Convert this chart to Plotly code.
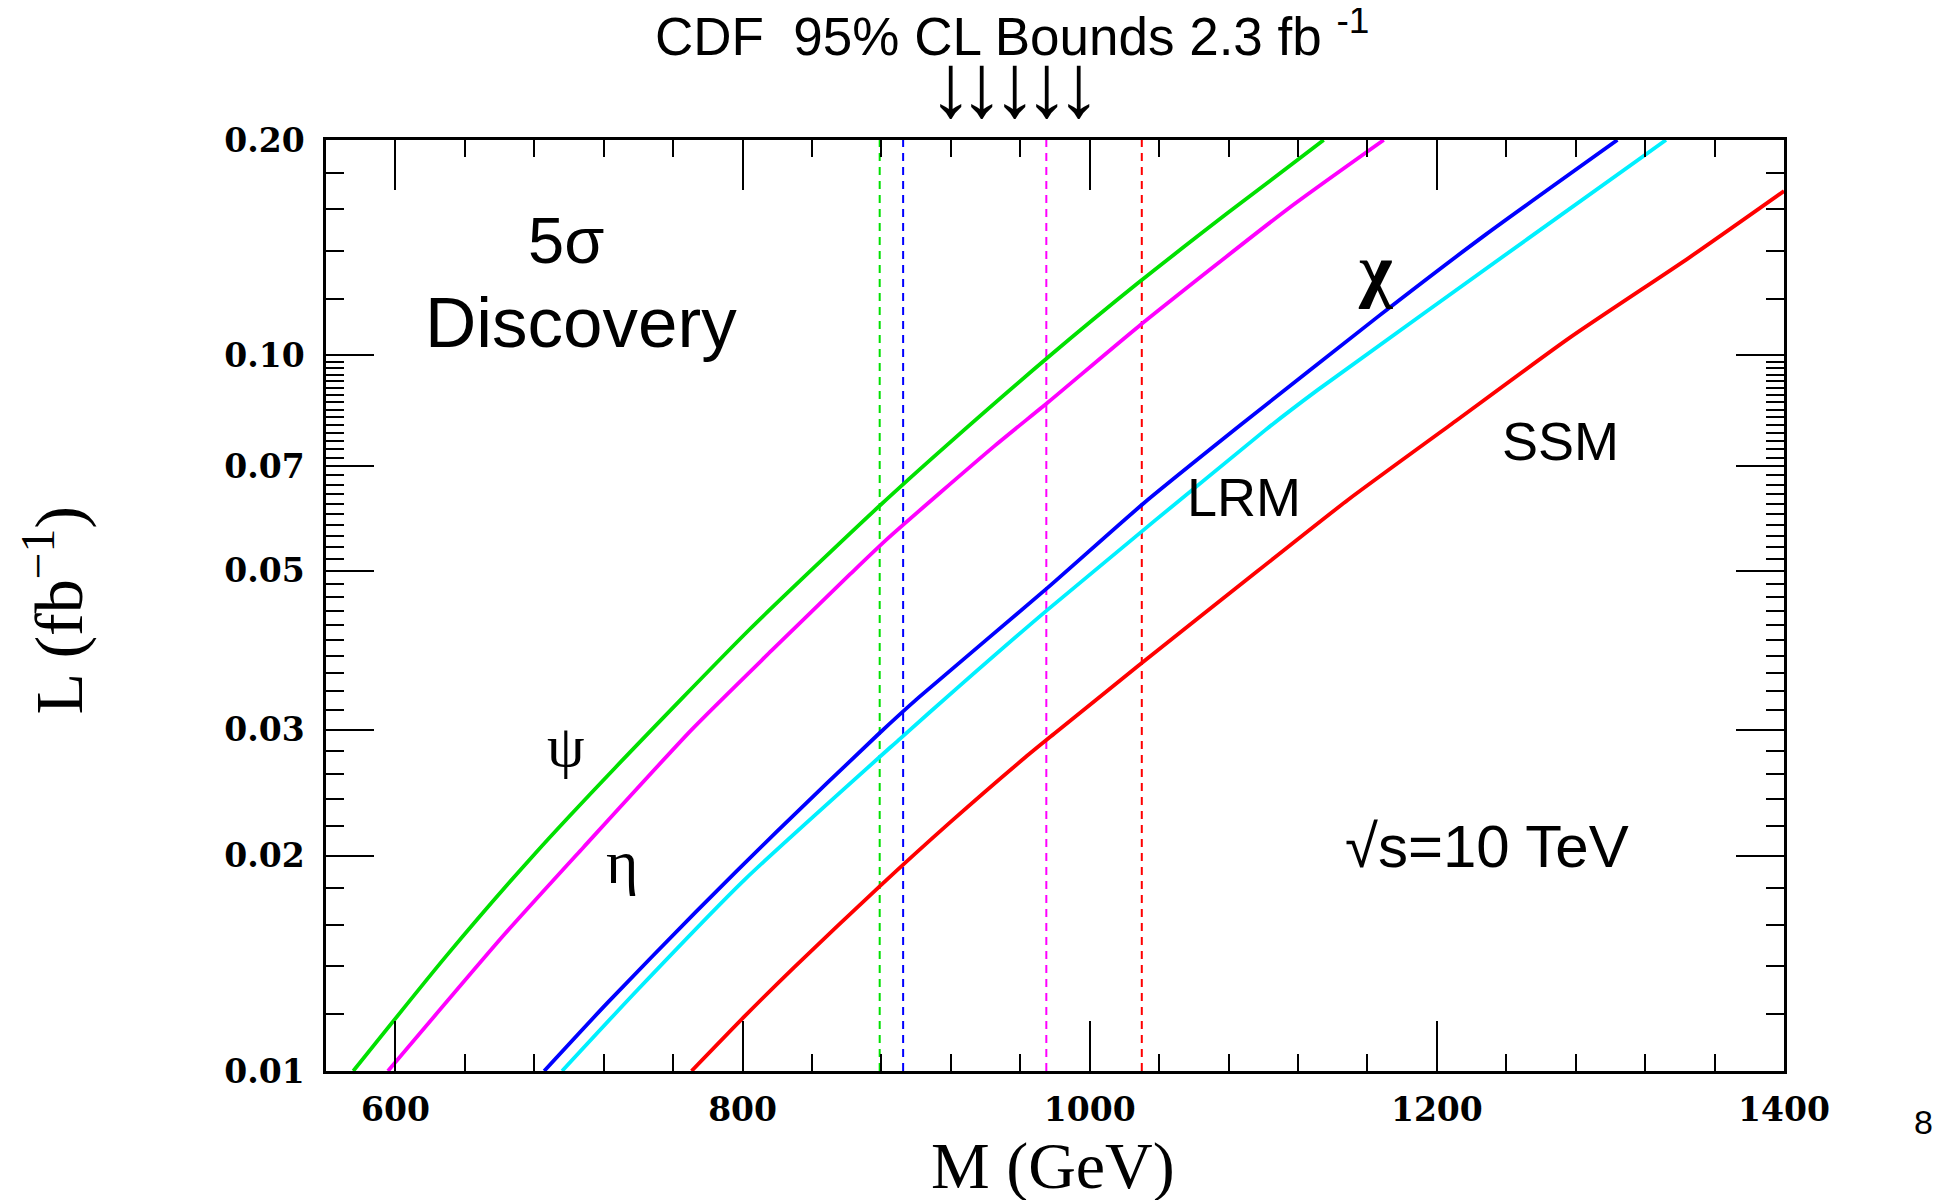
import numpy as np
import plotly.graph_objects as go

# ---------------- data ----------------
psi_M = [575.7, 629.1, 680.5, 726.9, 804.0, 878.5, 917.1, 976.0, 1027.8, 1079.6, 1134.8]
psi_L = [0.0100, 0.01446, 0.02014, 0.02658, 0.0414, 0.0615, 0.0747, 0.0994, 0.1262, 0.1582, 0.2000]

eta_M = [595.7, 662.6, 708.0, 770.7, 816.8, 862.1, 883.7, 945.4, 976.0, 1027.8, 1114.1, 1169.4]
eta_L = [0.0100, 0.0155, 0.0205, 0.0300, 0.0387, 0.0495, 0.0555, 0.0748, 0.0860, 0.1096, 0.1602, 0.2000]

chi_M = [685.7, 721.7, 773.1, 819.4, 878.5, 901.7, 976.0, 1031.3, 1086.5, 1165.9, 1228.1, 1304.0]
chi_L = [0.0100, 0.01242, 0.01669, 0.02157, 0.0296, 0.0333, 0.0474, 0.0622, 0.0798, 0.1132, 0.1475, 0.2000]

lrm_M = [696.0, 739.7, 801.4, 891.0, 924.9, 976.0, 1101.3, 1131.4, 1252.3, 1332.0]
lrm_L = [0.0100, 0.0130, 0.01853, 0.02917, 0.0345, 0.04417, 0.0787, 0.0895, 0.1455, 0.2000]

ssm_M = [770.6, 801.4, 829.7, 878.5, 919.7, 962.9, 979.5, 1027.8, 1096.9, 1148.7, 1207.3, 1276.4, 1345.4, 1400.0]
ssm_L = [0.0100, 0.01194, 0.01396, 0.01807, 0.02227, 0.02744, 0.0296, 0.0368, 0.0500, 0.0628, 0.0798, 0.1058, 0.1370, 0.1697]

# CDF 95% CL mass bounds (vertical dashed lines)
bound_M = [879.0, 892.5, 975.0, 1030.0]
bound_colors = ["#00e000", "#0000ff", "#ff00ff", "#ff0000"]

# axis ticks
x_major = [600, 800, 1000, 1200, 1400]
x_major_text = ["600", "800", "1000", "1200", "1400"]
x_minor = [560 + 40 * i for i in range(22)]

y_major = [0.01, 0.02, 0.03, 0.04, 0.05, 0.06, 0.07, 0.08, 0.09, 0.10, 0.20]
y_major_text = ["0.01", "0.02", "0.03", "", "0.05", "", "0.07", "", "", "0.10", "0.20"]
y_minor = [round(0.01 + 0.002 * i, 4) for i in range(46)] + [0.12, 0.14, 0.16, 0.18]

curves = [
    (psi_M, psi_L, "#00e000"),
    (eta_M, eta_L, "#ff00ff"),
    (chi_M, chi_L, "#0000ff"),
    (lrm_M, lrm_L, "#00f0ff"),
    (ssm_M, ssm_L, "#ff0000"),
]

# ---------------- figure ----------------
OFF = 8  # default page body margin
W, H = 1948 - OFF, 1200 - OFF
# plot area in screenshot pixels
L_, R_, T_, B_ = 325.5, 1784.0, 140.0, 1071.0


def px(xp):
    return (xp - L_) / (R_ - L_)


def py(yp):
    return (B_ - yp) / (B_ - T_)


fig = go.Figure()

for xm, col in zip(bound_M, bound_colors):
    fig.add_trace(go.Scatter(
        x=[xm, xm], y=[0.01, 0.2], mode="lines",
        line=dict(color=col, width=2, dash="8px,6px"),
        hoverinfo="skip", showlegend=False))

for m, l, col in curves:
    fig.add_trace(go.Scatter(
        x=m, y=l, mode="lines",
        line=dict(color=col, width=3.8, shape="spline", smoothing=0.6),
        showlegend=False, cliponaxis=True))

tickfont = dict(family="DejaVu Serif", size=33, color="black", weight="bold")

fig.update_xaxes(
    range=[560, 1400], showline=True, linecolor="black", linewidth=2.5,
    mirror="ticks", ticks="inside", ticklen=50, tickwidth=2, tickcolor="black",
    tickmode="array", tickvals=x_major, ticktext=x_major_text,
    tickfont=tickfont, ticklabelstandoff=8,
    showgrid=False, zeroline=False,
    minor=dict(tickmode="array", tickvals=x_minor, ticks="inside",
               ticklen=17, tickwidth=2, tickcolor="black", showgrid=False),
)
fig.update_yaxes(
    type="log", range=[-2, np.log10(0.2)], showline=True, linecolor="black",
    linewidth=2.5, mirror="ticks", ticks="inside", ticklen=48, tickwidth=2,
    tickcolor="black", tickmode="array", tickvals=y_major, ticktext=y_major_text,
    tickfont=tickfont, ticklabelstandoff=12,
    showgrid=False, zeroline=False,
    minor=dict(tickmode="array", tickvals=y_minor, ticks="inside",
               ticklen=18, tickwidth=2, tickcolor="black", showgrid=False),
)

sans = "Liberation Sans"
serif = "Liberation Serif"


def note(text, xp_, yp_, size, family=sans, bold=False, angle=0):
    fig.add_annotation(
        text=text, x=px(xp_), y=py(yp_), xref="paper", yref="paper",
        xanchor="center", yanchor="middle", showarrow=False, textangle=angle,
        font=dict(family=family, size=size, color="black",
                  weight="bold" if bold else "normal"))


note("CDF&nbsp; 95% CL Bounds 2.3 fb <sup>-1</sup>", 1012, 33, 53)
for ax in [950, 981.6, 1014, 1046.4, 1078]:
    note("↓", ax, 85, 90)

note("5σ", 566, 240, 65)
note("Discovery", 581, 322, 71)
note("ψ", 566, 746, 60, family=serif)
note("η", 622, 862, 62, family=serif)
note("χ", 1375, 270, 72, family=serif, bold=True)
note("LRM", 1244, 497, 54)
note("SSM", 1560, 441, 54)
note("√s=10 TeV", 1487, 846, 60)
note("8", 1924, 1122, 34)

note("M (GeV)", 1053, 1166, 66, family=serif)
note("L (fb<sup>−1</sup>)", 54, 610, 68, family=serif, angle=-90)

fig.update_layout(
    width=W, height=H,
    margin=dict(l=L_ - OFF, r=1948 - R_, t=T_ - OFF, b=1200 - B_, pad=0),
    paper_bgcolor="white", plot_bgcolor="white",
    showlegend=False,
)

fig.write_html("out.html")
